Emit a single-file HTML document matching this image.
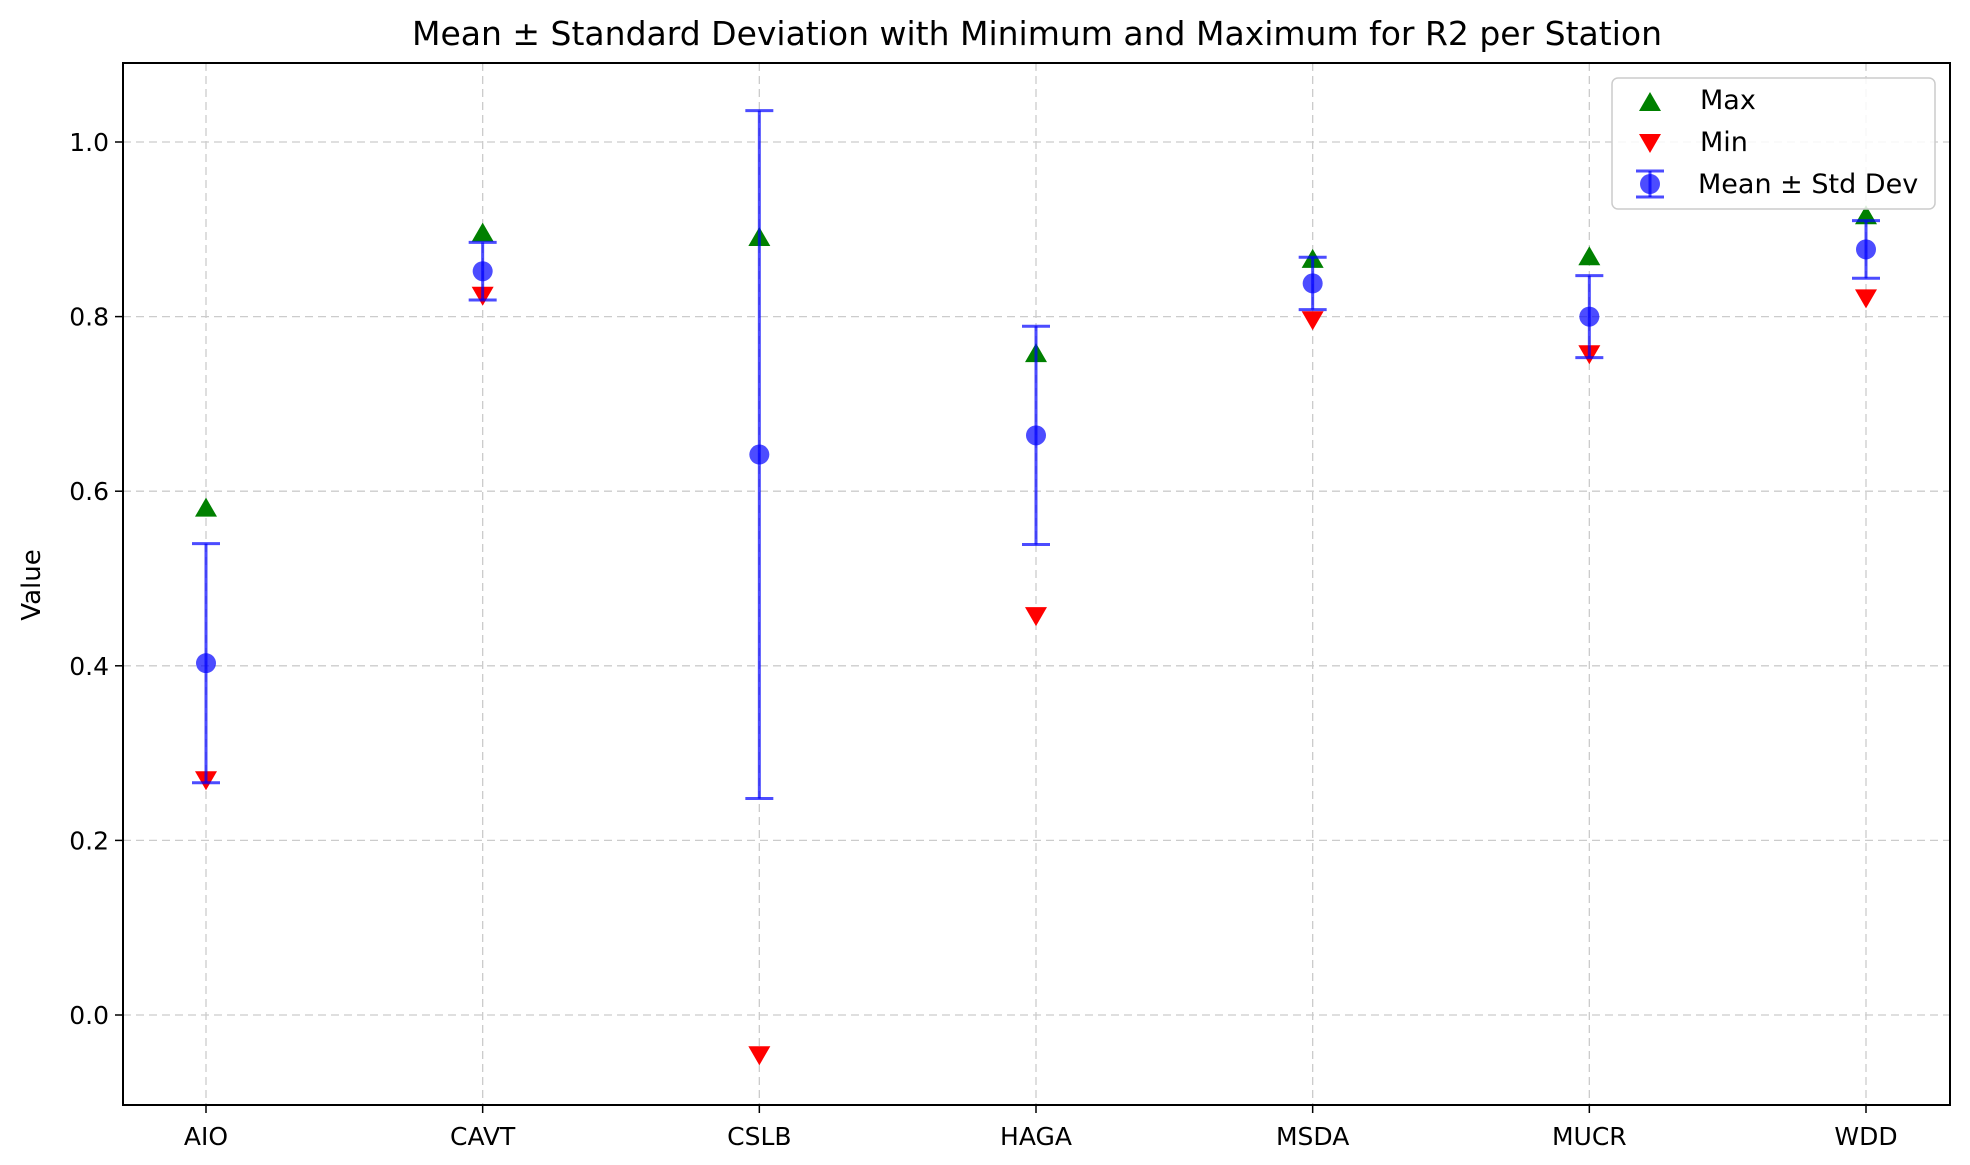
<!DOCTYPE html>
<html><head><meta charset="utf-8"><style>
body{margin:0;background:#fff;}
svg text{font-family:"DejaVu Sans","Liberation Sans",sans-serif;fill:#000;}
</style></head><body>
<svg id="chart" width="1970" height="1160" xmlns="http://www.w3.org/2000/svg">
<text x="1037" y="45" font-size="33" text-anchor="middle">Mean ± Standard Deviation with Minimum and Maximum for R2 per Station</text>
<text transform="translate(40,585) rotate(-90)" font-size="26" text-anchor="middle">Value</text>
<g id="grid"></g><g id="marks"></g><g id="axes"></g>
<rect x="123" y="63" width="1827" height="1042" fill="none" stroke="#000" stroke-width="2"/>
<g>
<rect x="1612" y="78" width="323" height="131" rx="6" fill="#fff" fill-opacity="0.85" stroke="#ccc" stroke-width="1.5"/>
<g><polygon points="1650,92 1661,111 1639,111" fill="green"/><text x="1700" y="109" font-size="27">Max</text></g>
<g><polygon points="1639,134 1661,134 1650,153" fill="red"/><text x="1700" y="151" font-size="27">Min</text></g>
<g><line x1="1650" y1="171" x2="1650" y2="197" stroke="blue" stroke-opacity="0.7" stroke-width="3"/><line x1="1636" y1="171" x2="1664" y2="171" stroke="blue" stroke-opacity="0.7" stroke-width="3"/><line x1="1636" y1="197" x2="1664" y2="197" stroke="blue" stroke-opacity="0.7" stroke-width="3"/><circle cx="1650" cy="184" r="10" fill="blue" fill-opacity="0.7"/><text x="1698" y="193" font-size="27">Mean ± Std Dev</text></g>
</g>
</svg>
<script>
const stations=["AIO","CAVT","CSLB","HAGA","MSDA","MUCR","WDD"];
const means=[0.403,0.852,0.642,0.664,0.838,0.800,0.877];
const stds=[0.137,0.033,0.394,0.125,0.030,0.047,0.033];
const maxs=[0.580,0.895,0.890,0.757,0.865,0.868,0.915];
const mins=[0.270,0.825,-0.045,0.458,0.797,0.758,0.822];
const yTicks=[0.0,0.2,0.4,0.6,0.8,1.0];

const NS="http://www.w3.org/2000/svg";
const L=123,R=1950,T=63,B=1105;
function xPos(i){return 206+i*(1866-206)/(stations.length-1);}
function yPos(v){return 1015-v*873;}
function mk(tag,attrs,parent){const e=document.createElementNS(NS,tag);for(const k in attrs)e.setAttribute(k,attrs[k]);parent.appendChild(e);return e;}
const grid=document.getElementById('grid'),marks=document.getElementById('marks'),axes=document.getElementById('axes');
yTicks.forEach(v=>{const y=yPos(v);
 const g=mk('line',{x1:L,x2:R,y1:y,y2:y,stroke:'#ccc','stroke-dasharray':'8,5','stroke-width':1.3},grid);
 
 
 const t=mk('line',{x1:L-8,x2:L,y1:y,y2:y,stroke:'#000','stroke-width':1.5},axes);
 
 
 const tx=mk('text',{x:L-14,y:y+9,'font-size':25,'text-anchor':'end'},axes);tx.textContent=v.toFixed(1);
 
 
});
stations.forEach((s,i)=>{const x=xPos(i);
 const g=mk('line',{x1:x,x2:x,y1:T,y2:B,stroke:'#ccc','stroke-dasharray':'8,5','stroke-width':1.3},grid);
 
 
 const t=mk('line',{x1:x,x2:x,y1:B,y2:B+8,stroke:'#000','stroke-width':1.5},axes);
 
 
 const tx=mk('text',{x:x,y:1145,'font-size':25,'text-anchor':'middle'},axes);tx.textContent=s;
 
 
 const grp=mk('g',{},marks);
 
 
 const ym=yPos(maxs[i]);mk('polygon',{points:`${x},${ym-11} ${x+11},${ym+8} ${x-11},${ym+8}`,fill:'green'},grp);
 const yn=yPos(mins[i]);mk('polygon',{points:`${x-11},${yn-8} ${x+11},${yn-8} ${x},${yn+11}`,fill:'red'},grp);
 const yu=yPos(means[i]+stds[i]),yl=yPos(means[i]-stds[i]),st={stroke:'blue','stroke-opacity':0.7,'stroke-width':3};
 mk('line',Object.assign({x1:x,x2:x,y1:yu,y2:yl},st),grp);
 mk('line',Object.assign({x1:x-14,x2:x+14,y1:yu,y2:yu},st),grp);
 mk('line',Object.assign({x1:x-14,x2:x+14,y1:yl,y2:yl},st),grp);
 mk('circle',{cx:x,cy:yPos(means[i]),r:10,fill:'blue','fill-opacity':0.7},grp);
});
</script>
</body></html>
